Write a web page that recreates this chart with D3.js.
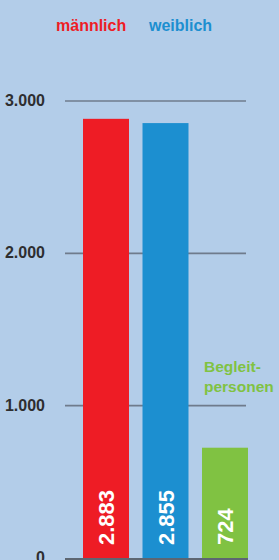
<!DOCTYPE html>
<html><head><meta charset="utf-8">
<script src="https://cdn.jsdelivr.net/npm/d3@7"></script>
<style>
html,body{margin:0;padding:0;background:#b3cde9;}
svg{display:block;font-family:"Liberation Sans",Arial,Helvetica,sans-serif;}
</style></head><body>
<svg id="c" width="279" height="560"></svg>
<script>
const categories = ["männlich", "weiblich", "Begleitpersonen"];
const values = [2883, 2855, 724];
const valueLabels = ["2.883", "2.855", "724"];
const tickValues = [0, 1000, 2000, 3000];
const tickLabels = ["0", "1.000", "2.000", "3.000"];
const colors = ["#ee1c25", "#1c8fd0", "#80c242"];

const svg = d3.select("#c");
svg.append("rect").attr("width",279).attr("height",560).attr("fill","#b3cde9");

const x = d3.scaleBand().domain(categories).range([76.25, 254.75]).paddingInner(0.227).paddingOuter(0.1135);
const y = d3.scaleLinear().domain([0, 3000]).range([558, 101]);

// gridlines
svg.append("g").selectAll("line").data(tickValues.filter(d => d > 0)).join("line")
  .attr("x1", 65).attr("x2", 246)
  .attr("y1", d => y(d)).attr("y2", d => y(d))
  .attr("stroke", "#6f7b8c").attr("stroke-width", 1.6);

// tick labels
svg.append("g").selectAll("text").data(tickValues).join("text")
  .attr("x", 45).attr("y", d => y(d) + 5)
  .attr("text-anchor", "end")
  .attr("font-size", 16).attr("font-weight", "bold").attr("fill", "#2e2e30")
  .text((d, i) => tickLabels[i]);

// bars
svg.append("g").selectAll("rect").data(values).join("rect")
  .attr("x", (d, i) => x(categories[i]))
  .attr("width", x.bandwidth())
  .attr("y", d => y(d))
  .attr("height", d => y(0) - y(d))
  .attr("fill", (d, i) => colors[i]);

// zero line
svg.append("line").attr("x1", 65).attr("x2", 248).attr("y1", y(0)+1).attr("y2", y(0)+1)
  .attr("stroke", "#5d6672").attr("stroke-width", 2);

// value labels (rotated)
svg.append("g").selectAll("text").data(values).join("text")
  .attr("transform", (d, i) => `translate(${x(categories[i]) + x.bandwidth()/2 + 8},${y(0) - 13}) rotate(-90)`)
  .attr("font-size", 22).attr("font-weight", "bold").attr("fill", "#ffffff")
  .text((d, i) => valueLabels[i]);

// legend
svg.append("text").attr("x", 56).attr("y", 31).attr("font-size", 16).attr("font-weight", "bold")
  .attr("fill", colors[0]).text(categories[0]);
svg.append("text").attr("x", 149).attr("y", 31).attr("font-size", 16).attr("font-weight", "bold")
  .attr("fill", colors[1]).text(categories[1]);

// Begleitpersonen label
const bl = svg.append("text").attr("font-size", 15.5).attr("font-weight", "bold").attr("fill", colors[2]);
bl.append("tspan").attr("x", 204).attr("y", 372).text("Begleit-");
bl.append("tspan").attr("x", 204).attr("y", 392).text("personen");
</script>
</body></html>
